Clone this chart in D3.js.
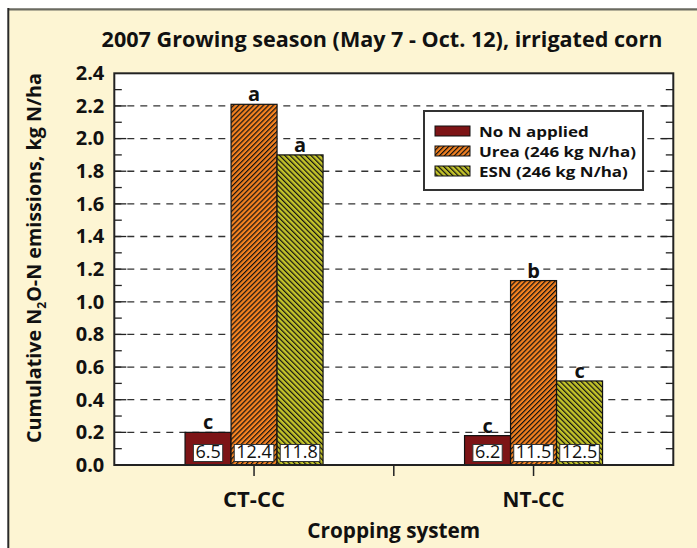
<!DOCTYPE html>
<html>
<head>
<meta charset="utf-8">
<script src="https://cdn.jsdelivr.net/npm/d3@7"></script>
<style>
  body { margin: 0; background: #fff; }
  text { font-family: "Open Sans", Lato, sans-serif; fill: #111; }
</style>
</head>
<body>
<script>
const width = 697;
const height = 548;

// data
const categories = ["CT-CC", "NT-CC"];
const series = ["No N applied", "Urea (246 kg N/ha)", "ESN (246 kg N/ha)"];
const noN = [0.20, 0.18];
const urea = [2.21, 1.13];
const esn = [1.90, 0.515];
const letters = [["c", "a", "a"], ["c", "b", "c"]];
const boxLabels = [["6.5", "12.4", "11.8"], ["6.2", "11.5", "12.5"]];
const yTicks = [0, 0.2, 0.4, 0.6, 0.8, 1.0, 1.2, 1.4, 1.6, 1.8, 2.0, 2.2, 2.4];

const values = [noN, urea, esn];
const fills = ["#7d1416", "url(#hatchUrea)", "url(#hatchEsn)"];

const plotL = 114.3, plotR = 673.3, plotT = 73.3, plotB = 465;

// scale a text's font so it spans the given width
function fit(sel, w) {
    const fs = +sel.attr("font-size");
    const len = sel.node().getComputedTextLength();
    sel.attr("font-size", (fs * w / len).toFixed(2));
    return sel;
}

const svg = d3.select("body").append("svg")
    .attr("width", width)
    .attr("height", height);

// patterns
const defs = svg.append("defs");
const pUrea = defs.append("pattern")
    .attr("id", "hatchUrea")
    .attr("patternUnits", "userSpaceOnUse")
    .attr("width", 3.5).attr("height", 3.5)
    .attr("patternTransform", "rotate(45)");
pUrea.append("rect").attr("width", 3.5).attr("height", 3.5).attr("fill", "#f58220");
pUrea.append("line").attr("x1", 0).attr("y1", 0).attr("x2", 0).attr("y2", 3.5)
    .attr("stroke", "#111").attr("stroke-width", 2.4);

const pEsn = defs.append("pattern")
    .attr("id", "hatchEsn")
    .attr("patternUnits", "userSpaceOnUse")
    .attr("width", 3.7).attr("height", 3.7)
    .attr("patternTransform", "rotate(-45)");
pEsn.append("rect").attr("width", 3.7).attr("height", 3.7).attr("fill", "#c3c32a");
pEsn.append("line").attr("x1", 0).attr("y1", 0).attr("x2", 0).attr("y2", 3.7)
    .attr("stroke", "#111").attr("stroke-width", 2.4);

// panel background + frame lines
svg.append("rect")
    .attr("x", 9).attr("y", 10)
    .attr("width", width - 9).attr("height", height - 10)
    .attr("fill", "#fdf5d3");
svg.append("line").attr("x1", 8).attr("x2", width).attr("y1", 9.3).attr("y2", 9.3)
    .attr("stroke", "#6a6a60").attr("stroke-width", 2.2);
svg.append("line").attr("x1", 8.3).attr("x2", 8.3).attr("y1", 8).attr("y2", height)
    .attr("stroke", "#2a2a2a").attr("stroke-width", 2);

const x = d3.scalePoint()
    .domain(categories)
    .range([plotL, plotR])
    .padding(0.5);

const xInner = d3.scaleBand()
    .domain(series)
    .range([-69, 69]);

const y = d3.scaleLinear()
    .domain([0, 2.4])
    .range([plotB, plotT]);

// plot area
svg.append("rect")
    .attr("x", plotL).attr("y", plotT)
    .attr("width", plotR - plotL).attr("height", plotB - plotT)
    .attr("fill", "#fff");

// dashed grid
svg.append("g")
    .selectAll("line")
    .data(yTicks.filter(d => d > 0 && d < 2.4))
    .enter().append("line")
    .attr("x1", plotL).attr("x2", plotR)
    .attr("y1", d => y(d)).attr("y2", d => y(d))
    .attr("stroke", "#333")
    .attr("stroke-width", 1.3)
    .attr("stroke-dasharray", "7,6");

// minor + major ticks on both sides, pointing in
const minor = d3.range(1, 24).map(d => d / 10);
const tickG = svg.append("g");
minor.forEach(v => {
    const len = Math.round(v * 10) % 2 === 0 ? 12 : 7.5;
    tickG.append("line")
        .attr("x1", plotL).attr("x2", plotL + len)
        .attr("y1", y(v)).attr("y2", y(v))
        .attr("stroke", "#222").attr("stroke-width", 1.3);
    tickG.append("line")
        .attr("x1", plotR).attr("x2", plotR - len)
        .attr("y1", y(v)).attr("y2", y(v))
        .attr("stroke", "#222").attr("stroke-width", 1.3);
});

// y axis labels
const yAxis = svg.append("g")
    .attr("transform", `translate(${plotL},0)`)
    .call(d3.axisLeft(y).tickValues(yTicks).tickFormat(d3.format(".1f")).tickSize(0).tickPadding(10));
yAxis.select(".domain").remove();
yAxis.selectAll("text")
    .attr("font-size", 20)
    .attr("font-weight", 700)
    .attr("font-family", "'Open Sans', sans-serif")
    .attr("fill", "#111");

// bars
const groups = svg.append("g")
    .selectAll("g")
    .data(categories)
    .enter().append("g")
    .attr("transform", d => `translate(${x(d)},0)`);

groups.each(function (cat, ci) {
    const g = d3.select(this);
    series.forEach((s, si) => {
        const v = values[si][ci];
        const bx = xInner(s);
        const bw = xInner.bandwidth();
        g.append("rect")
            .attr("x", bx)
            .attr("y", y(v))
            .attr("width", bw)
            .attr("height", y(0) - y(v))
            .attr("fill", fills[si])
            .attr("stroke", "#111")
            .attr("stroke-width", 1.2);

        g.append("text")
            .attr("x", bx + bw / 2)
            .attr("y", y(v) - 3)
            .attr("text-anchor", "middle")
            .attr("font-size", 20)
            .attr("font-weight", 700)
            .text(letters[ci][si]);

        const t = g.append("text")
            .attr("x", bx + bw / 2)
            .attr("y", plotB - 7.5)
            .attr("text-anchor", "middle")
            .attr("font-size", 18)
            .attr("fill", "#111")
            .text(boxLabels[ci][si]);
        const bb = t.node().getBBox();
        g.insert("rect", () => t.node())
            .attr("x", bb.x - 2)
            .attr("y", plotB - 20.5)
            .attr("width", bb.width + 4)
            .attr("height", 17)
            .attr("fill", "#fff")
            .attr("stroke", "#333")
            .attr("stroke-width", 1);
    });
});

// frame
svg.append("rect")
    .attr("x", plotL).attr("y", plotT)
    .attr("width", plotR - plotL).attr("height", plotB - plotT)
    .attr("fill", "none")
    .attr("stroke", "#222")
    .attr("stroke-width", 2);

// x ticks
const xTickPos = [x(categories[0]), (plotL + plotR) / 2, x(categories[1])];
svg.append("g")
    .selectAll("line")
    .data(xTickPos)
    .enter().append("line")
    .attr("x1", d => d).attr("x2", d => d)
    .attr("y1", plotB).attr("y2", plotB + 11)
    .attr("stroke", "#222").attr("stroke-width", 1.5);

svg.append("g")
    .selectAll("text")
    .data(categories)
    .enter().append("text")
    .attr("x", d => x(d))
    .attr("y", 507)
    .attr("text-anchor", "middle")
    .attr("font-size", 19)
    .attr("font-weight", 700)
    .text(d => d)
    .each(function () { fit(d3.select(this), 62); });

fit(svg.append("text")
    .attr("x", (plotL + plotR) / 2)
    .attr("y", 538)
    .attr("text-anchor", "middle")
    .attr("font-size", 20)
    .attr("font-weight", 700)
    .text("Cropping system"), 173);

// title
fit(svg.append("text")
    .attr("x", 382)
    .attr("y", 47)
    .attr("text-anchor", "middle")
    .attr("font-size", 20)
    .attr("font-weight", 700)
    .text("2007 Growing season (May 7 - Oct. 12), irrigated corn"), 561);

// y label with subscript
const yl = svg.append("text")
    .attr("transform", `translate(41,258) rotate(-90)`)
    .attr("text-anchor", "middle")
    .attr("font-size", 19)
    .attr("font-weight", 700);
yl.append("tspan").text("Cumulative N");
yl.append("tspan").attr("font-size", "0.62em").attr("dy", 5).text("2");
yl.append("tspan").attr("dy", -5).text("O-N emissions, kg N/ha");
fit(yl, 370);

// legend
const legend = svg.append("g").attr("transform", "translate(424,111)");
legend.append("rect")
    .attr("width", 219).attr("height", 79)
    .attr("fill", "#fff")
    .attr("stroke", "#333")
    .attr("stroke-width", 2);
const legendText = [];
series.forEach((s, i) => {
    legend.append("rect")
        .attr("x", 11).attr("y", 15 + i * 20)
        .attr("width", 35).attr("height", 10)
        .attr("fill", fills[i])
        .attr("stroke", "#111")
        .attr("stroke-width", 1);
    legendText.push(legend.append("text")
        .attr("x", 55).attr("y", 25.5 + i * 20)
        .attr("font-size", 14.6)
        .attr("font-weight", 700)
        .text(s));
});
// stretch legend labels sideways to the reference width
const stretch = 157 / legendText[1].node().getComputedTextLength();
legendText.forEach(t => {
    t.attr("textLength", (t.node().getComputedTextLength() * stretch).toFixed(1))
        .attr("lengthAdjust", "spacingAndGlyphs");
});
</script>
</body>
</html>
